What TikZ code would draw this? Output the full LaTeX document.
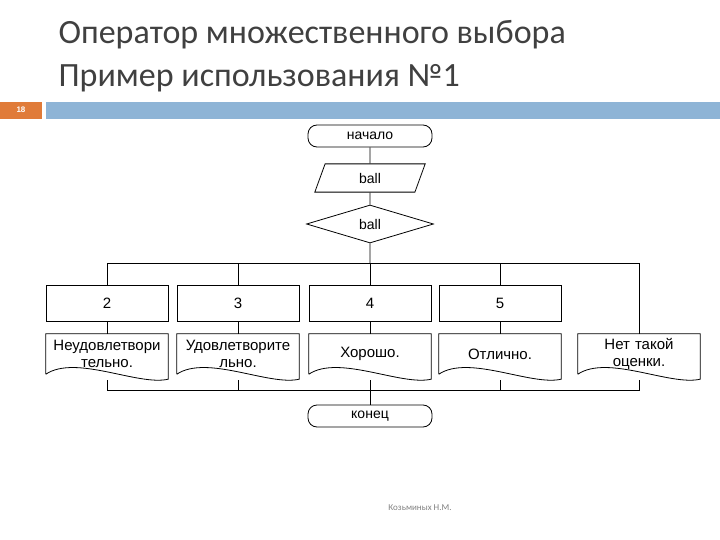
\documentclass[tikz,border=0pt]{standalone}
\usepackage{fontspec}
\setmainfont{Liberation Sans}
\newfontfamily\titlefont{Carlito}
\usetikzlibrary{shapes.geometric, positioning}
\definecolor{barblue}{HTML}{8EB4D6}
\definecolor{barorange}{HTML}{E07B39}
\definecolor{titlegray}{HTML}{404040}
\begin{document}
\begin{tikzpicture}[x=1pt, y=-1pt,
        block/.style={rectangle, draw, thick, minimum width=122pt, minimum height=36pt, font=\fontsize{15}{16}\selectfont},
        term/.style={rectangle, rounded corners=9pt, draw, thick, minimum width=124pt, minimum height=22pt, font=\fontsize{14}{15}\selectfont},
        io/.style={trapezium, trapezium left angle=70, trapezium right angle=110, draw, thick, inner xsep=34pt, inner ysep=9pt, font=\fontsize{14}{15}\selectfont},
        cond/.style={diamond, draw, thick, aspect=3.3, minimum width=127pt, minimum height=38pt, inner sep=0pt, font=\fontsize{14}{15}\selectfont},
        doc/.style={rectangle, minimum width=122pt, minimum height=40pt, text width=122pt, align=center, font=\fontsize{15}{17}\selectfont, inner sep=0pt},
        line/.style={draw, thick}
    ]
        \useasboundingbox (0,0) rectangle (720,540);
        % Title
        \node[anchor=west, text=titlegray, font=\titlefont\fontsize{34}{36}\selectfont] (title1) at (55,35) {Оператор множественного выбора};
        \node[anchor=west, text=titlegray, font=\titlefont\fontsize{34}{36}\selectfont] (title2) at (55,78) {Пример использования №1};
        \fill[barorange] (0,102) rectangle (42,119);
        \fill[barblue] (46,102) rectangle (720,119);
        \node[text=white, font=\fontsize{8}{9}\selectfont\bfseries] (num) at (21,110) {18};
        % Flowchart
        \node[term] (start) at (370,136) {начало};
        \node[io] (input) at (370,178) {ball};
        \node[cond] (choice) at (370,224) {ball};
        \node[block] (c2) at (107,303) {2};
        \node[block] (c3) at (238,303) {3};
        \node[block] (c4) at (370,303) {4};
        \node[block] (c5) at (500,303) {5};
        \node[doc] (d2) at (107,354) {Неудовлетвори\\тельно.};
        \node[doc] (d3) at (238,354) {Удовлетворите\\льно.};
        \node[doc] (d4) at (370,354) {Хорошо.};
        \node[doc] (d5) at (500,354) {Отлично.};
        \node[doc] (d6) at (639,354) {Нет такой\\оценки.};
        \node[term] (finish) at (370,416) {конец};
        % Document outlines
        \foreach \d in {d2,d3,d4,d5,d6}
            \draw[thick] (\d.south west) -- (\d.north west) -- (\d.north east) -- ([yshift=-5pt]\d.south east)
                .. controls ([xshift=-30pt,yshift=-12pt]\d.south east) and ([xshift=30pt,yshift=20pt]\d.south west) .. (\d.south west);
        % Connections
        \coordinate (split) at (370,263);
        \coordinate (merge) at (370,390);
        \path[line] (start) -- (input) -- (choice) -- (split);
        \path[line] (c2.north |- split) -- (d6.north |- split) -- (d6.north);
        \foreach \c/\d in {c2/d2,c3/d3,c4/d4,c5/d5} {
            \path[line] (\c.north |- split) -- (\c.north);
            \path[line] (\c) -- (\d);
            \path[line] ([yshift=-6pt]\d.south) -- (\d.south |- merge);
        }
        \path[line] ([yshift=-6pt]d6.south) -- (d6.south |- merge) -- (d2.south |- merge);
        \path[line] (merge) -- (finish);
        % Footer
        \node[text=gray, font=\titlefont\fontsize{9}{10}\selectfont] (author) at (420,508) {Козьминых Н.М.};
\end{tikzpicture}
\end{document}
